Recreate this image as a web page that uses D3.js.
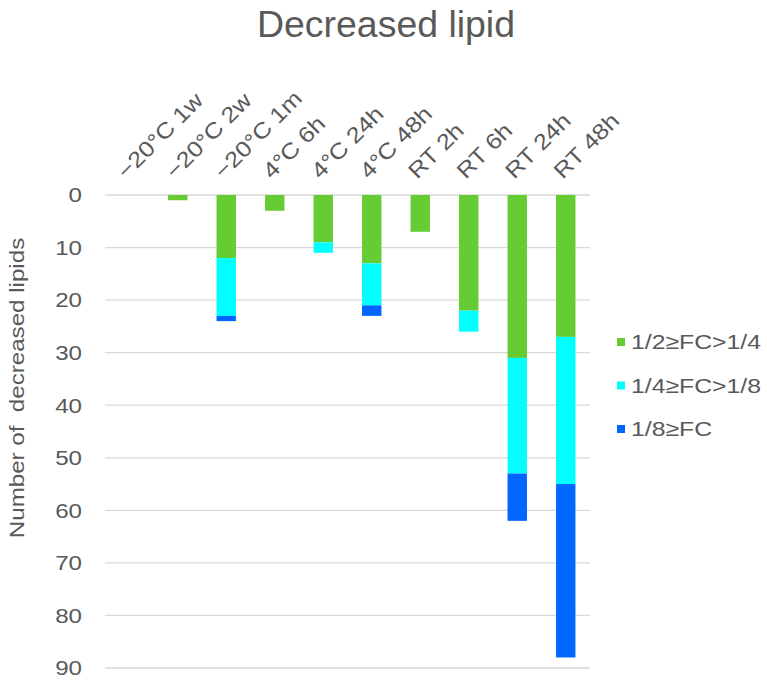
<!DOCTYPE html>
<html><head><meta charset="utf-8">
<script src="https://cdn.jsdelivr.net/npm/d3@7"></script>
<style>body{margin:0;background:#fff}svg{display:block}text{font-family:"Liberation Sans",Arial,sans-serif;fill:#595959}</style>
</head><body>
<script>
const categories = ["\u221220\u00b0C 1w","\u221220\u00b0C 2w","\u221220\u00b0C 1m","4\u00b0C 6h","4\u00b0C 24h","4\u00b0C 48h","RT 2h","RT 6h","RT 24h","RT 48h"];
const seriesNames = ["1/2\u2265FC>1/4","1/4\u2265FC>1/8","1/8\u2265FC"];
const green = [0,1,12,3,9,13,7,22,31,27];
const cyan  = [0,0,11,0,2,8,0,4,22,28];
const blue  = [0,0,1,0,0,2,0,0,9,33];
const yTicks = [0,10,20,30,40,50,60,70,80,90];
const colors = ["#66cc33","#00ffff","#0066ff"];

const W=767,H=687, SX=1.15;
const svg=d3.select("body").append("svg").attr("width",W).attr("height",H);
const x=d3.scaleBand().domain(categories).range([105,590]).paddingInner(0.6).paddingOuter(0.3);
const y=d3.scaleLinear().domain([0,90]).range([195,668]);

svg.append("text").attr("transform","translate(386,37) scale(1.04,1)").attr("text-anchor","middle")
  .style("font-size","36px").text("Decreased lipid");

// grid
svg.append("g").selectAll("line").data(yTicks).join("line")
  .attr("x1",105).attr("x2",590).attr("y1",d=>y(d)).attr("y2",d=>y(d))
  .attr("stroke","#d9d9d9").attr("stroke-width",1.3);

// y tick labels
svg.append("g").selectAll("text").data(yTicks).join("text")
  .attr("transform",d=>`translate(82,${y(d)}) scale(${SX},1)`).attr("dy","0.35em").attr("text-anchor","end")
  .style("font-size","21px").text(d=>d);

// axis title
svg.append("text").attr("transform",`translate(24,388) rotate(-90) scale(${SX},1)`).attr("text-anchor","middle")
  .attr("xml:space","preserve").style("white-space","pre")
  .style("font-size","21px").text("Number of  decreased lipids");

// stacked bars
const table=categories.map((c,i)=>({cat:c,s0:green[i],s1:cyan[i],s2:blue[i]}));
const stack=d3.stack().keys(["s0","s1","s2"])(table);
svg.append("g").selectAll("g").data(stack).join("g").attr("fill",(d,i)=>colors[i])
  .selectAll("rect").data(d=>d).join("rect")
  .attr("x",d=>x(d.data.cat)).attr("width",x.bandwidth())
  .attr("y",d=>y(d[0])).attr("height",d=>Math.max(0,y(d[1])-y(d[0])));

// category labels
svg.append("g").selectAll("text").data(categories).join("text")
  .attr("transform",d=>`translate(${x(d)+x.bandwidth()/2-3},180) rotate(-45) scale(${SX},1)`)
  .attr("text-anchor","start").style("font-size","22px").text(d=>d);

// legend
const lg=svg.append("g").selectAll("g").data(seriesNames).join("g")
  .attr("transform",(d,i)=>`translate(617,${342+i*43.5})`);
lg.append("rect").attr("x",0).attr("y",-4).attr("width",8).attr("height",8).attr("fill",(d,i)=>colors[i]);
lg.append("text").attr("transform",`translate(14,0) scale(1.18,1)`).attr("dy","0.35em").style("font-size","21px").text(d=>d);
</script>
</body></html>
